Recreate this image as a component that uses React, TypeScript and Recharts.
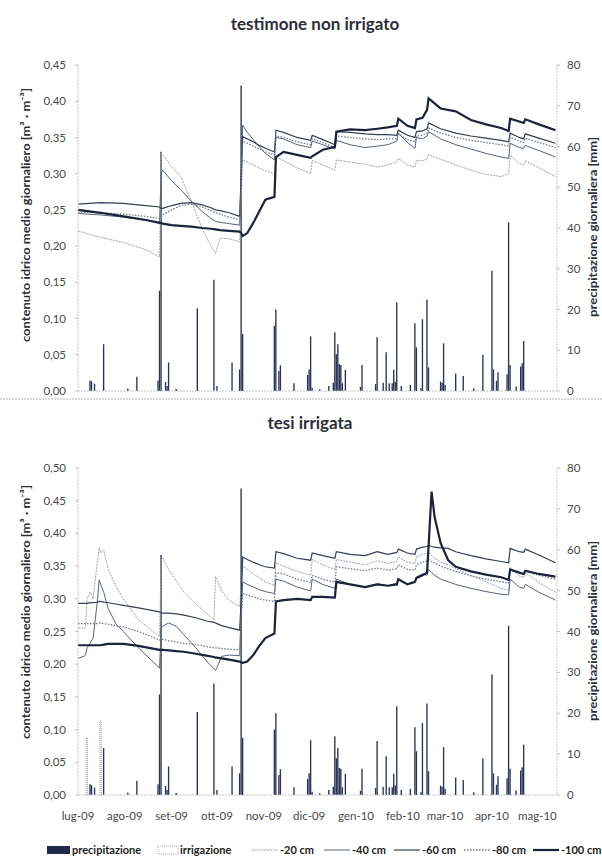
import React from "react";
import { ComposedChart, Line, Bar, XAxis, YAxis } from "recharts";

// x axis: days from 1 Jul 2009
const monthDays = [0, 31, 62, 92, 123, 153, 184, 215, 243, 274, 304];
const monthLabels = ["lug-09", "ago-09", "set-09", "ott-09", "nov-09", "dic-09", "gen-10", "feb-10", "mar-10", "apr-10", "mag-10"];

const topTicks = [0, 0.05, 0.1, 0.15, 0.2, 0.25, 0.3, 0.35, 0.4, 0.45];
const botTicks = [0, 0.05, 0.1, 0.15, 0.2, 0.25, 0.3, 0.35, 0.4, 0.45, 0.5];
const mmTicks = [0, 10, 20, 30, 40, 50, 60, 70, 80];

// precipitazione giornaliera (mm), same for both plots
const rainDays = [8, 9, 11, 17, 33, 39, 53, 54, 55, 58, 59, 60, 65, 79, 90, 92, 102, 107, 108, 109, 130, 131, 133, 134, 143, 152, 153, 154, 155, 160, 166, 169, 170, 171, 172, 173, 174, 175, 177, 187, 188, 197, 198, 202, 204, 206, 208, 209, 210, 211, 214, 220, 223, 224, 227, 228, 231, 232, 240, 241, 242, 243, 250, 255, 262, 268, 274, 275, 277, 278, 284, 285, 286, 290, 293, 294, 295];
const rainMm = [2.6, 2.4, 1.8, 11.5, 0.6, 3.5, 2.6, 24.6, 58.7, 2.2, 1.2, 7.0, 0.5, 20.3, 27.3, 1.2, 7.0, 5.3, 75, 14, 16, 20, 4.9, 6.3, 1.9, 3.9, 5.3, 13.4, 0.8, 0.4, 1.2, 2.0, 14.4, 9.0, 11.5, 6.6, 6.4, 1.9, 5.2, 1.0, 6.4, 1.7, 13.2, 2.0, 9.5, 1.9, 1.9, 5.2, 2.3, 21.7, 1.2, 1.5, 16.6, 10.7, 0.7, 17.6, 22.4, 5.8, 2.3, 2.0, 11.7, 1.5, 4.3, 3.7, 0.7, 8.9, 29.5, 5.3, 2.5, 4.6, 4.1, 41.4, 6.4, 1.1, 6.0, 6.8, 12.3];

// irrigazione (mm), irrigated plot only
const irrDays = [6, 15];
const irrMm = [14, 18];

// testimone non irrigato - soil water content (m3/m3)
const topDays = [0, 15, 30, 45, 54, 55, 56, 62, 68, 75, 82, 88, 91, 94, 100, 107, 108, 109, 112, 116, 120, 124, 130, 131, 136, 145, 154, 155, 162, 170, 171, 180, 190, 198, 205, 211, 212, 218, 223, 224, 228, 231, 232, 240, 250, 260, 270, 280, 285, 286, 292, 295, 296, 305, 316];
const top20 = [0.221, 0.212, 0.205, 0.195, 0.185, 0.328, 0.326, 0.310, 0.296, 0.262, 0.225, 0.200, 0.190, 0.211, 0.210, 0.206, 0.270, 0.319, 0.316, 0.312, 0.308, 0.304, 0.300, 0.323, 0.318, 0.308, 0.300, 0.318, 0.312, 0.305, 0.319, 0.316, 0.313, 0.309, 0.312, 0.316, 0.321, 0.312, 0.309, 0.318, 0.318, 0.320, 0.326, 0.320, 0.312, 0.305, 0.299, 0.296, 0.300, 0.326, 0.314, 0.312, 0.318, 0.308, 0.296];
const top40 = [0.245, 0.243, 0.240, 0.236, 0.233, 0.300, 0.305, 0.290, 0.278, 0.262, 0.248, 0.238, 0.234, 0.233, 0.231, 0.229, 0.300, 0.367, 0.357, 0.347, 0.337, 0.328, 0.319, 0.350, 0.348, 0.340, 0.336, 0.345, 0.340, 0.334, 0.346, 0.340, 0.336, 0.338, 0.340, 0.345, 0.356, 0.343, 0.335, 0.350, 0.348, 0.352, 0.358, 0.348, 0.340, 0.334, 0.328, 0.323, 0.321, 0.342, 0.336, 0.335, 0.339, 0.332, 0.323];
const top60 = [0.258, 0.260, 0.259, 0.256, 0.254, 0.252, 0.252, 0.256, 0.259, 0.260, 0.257, 0.253, 0.250, 0.249, 0.246, 0.241, 0.300, 0.351, 0.348, 0.344, 0.339, 0.335, 0.330, 0.360, 0.357, 0.350, 0.346, 0.353, 0.347, 0.340, 0.358, 0.357, 0.355, 0.354, 0.354, 0.353, 0.360, 0.353, 0.350, 0.358, 0.359, 0.362, 0.370, 0.362, 0.356, 0.352, 0.349, 0.346, 0.344, 0.356, 0.350, 0.348, 0.355, 0.349, 0.342];
const top80 = [0.247, 0.246, 0.244, 0.241, 0.238, 0.240, 0.243, 0.250, 0.256, 0.258, 0.254, 0.249, 0.246, 0.244, 0.240, 0.236, 0.290, 0.345, 0.342, 0.338, 0.334, 0.330, 0.326, 0.352, 0.350, 0.344, 0.340, 0.348, 0.343, 0.336, 0.352, 0.350, 0.348, 0.347, 0.348, 0.348, 0.355, 0.347, 0.344, 0.352, 0.353, 0.356, 0.363, 0.356, 0.350, 0.346, 0.343, 0.340, 0.338, 0.350, 0.345, 0.343, 0.349, 0.343, 0.336];
const top100 = [0.250, 0.246, 0.241, 0.236, 0.232, 0.232, 0.231, 0.229, 0.228, 0.227, 0.225, 0.224, 0.223, 0.222, 0.221, 0.220, 0.218, 0.214, 0.218, 0.232, 0.248, 0.264, 0.268, 0.323, 0.330, 0.326, 0.322, 0.324, 0.333, 0.337, 0.358, 0.361, 0.360, 0.362, 0.364, 0.366, 0.376, 0.366, 0.363, 0.375, 0.377, 0.388, 0.404, 0.390, 0.386, 0.374, 0.368, 0.363, 0.359, 0.376, 0.372, 0.370, 0.375, 0.368, 0.360];

// tesi irrigata
const botDays = [0, 4, 5, 6, 8, 10, 13, 14, 15, 17, 20, 25, 30, 40, 54, 55, 56, 60, 65, 70, 78, 85, 90, 91, 92, 95, 100, 107, 108, 109, 112, 116, 120, 124, 130, 131, 136, 145, 154, 155, 162, 170, 171, 180, 190, 198, 205, 211, 212, 218, 223, 224, 228, 231, 232, 234, 236, 240, 245, 250, 260, 270, 280, 285, 286, 292, 295, 296, 305, 316];
const bot20 = [0.255, 0.255, 0.256, 0.300, 0.310, 0.300, 0.360, 0.378, 0.370, 0.375, 0.345, 0.320, 0.300, 0.268, 0.242, 0.360, 0.362, 0.345, 0.328, 0.310, 0.292, 0.278, 0.268, 0.334, 0.330, 0.312, 0.298, 0.288, 0.320, 0.350, 0.345, 0.338, 0.332, 0.326, 0.320, 0.355, 0.350, 0.342, 0.336, 0.360, 0.352, 0.345, 0.360, 0.356, 0.352, 0.358, 0.354, 0.357, 0.364, 0.356, 0.354, 0.364, 0.368, 0.370, 0.372, 0.366, 0.362, 0.356, 0.352, 0.346, 0.336, 0.326, 0.316, 0.313, 0.348, 0.335, 0.333, 0.340, 0.325, 0.310];
const bot40 = [0.209, 0.212, 0.214, 0.225, 0.232, 0.240, 0.300, 0.329, 0.322, 0.310, 0.285, 0.262, 0.250, 0.225, 0.194, 0.255, 0.258, 0.263, 0.258, 0.245, 0.225, 0.205, 0.193, 0.191, 0.195, 0.212, 0.214, 0.213, 0.280, 0.326, 0.322, 0.318, 0.314, 0.311, 0.308, 0.330, 0.327, 0.318, 0.312, 0.330, 0.322, 0.316, 0.330, 0.322, 0.318, 0.323, 0.320, 0.324, 0.330, 0.322, 0.325, 0.333, 0.338, 0.336, 0.345, 0.340, 0.336, 0.330, 0.326, 0.322, 0.316, 0.311, 0.307, 0.306, 0.330, 0.318, 0.316, 0.322, 0.310, 0.298];
const bot60 = [0.293, 0.293, 0.293, 0.293, 0.294, 0.294, 0.295, 0.296, 0.296, 0.295, 0.294, 0.292, 0.290, 0.286, 0.280, 0.279, 0.278, 0.278, 0.277, 0.275, 0.271, 0.266, 0.264, 0.263, 0.262, 0.259, 0.256, 0.252, 0.300, 0.364, 0.360, 0.356, 0.352, 0.349, 0.347, 0.372, 0.369, 0.362, 0.359, 0.370, 0.366, 0.362, 0.372, 0.368, 0.366, 0.372, 0.368, 0.371, 0.376, 0.370, 0.368, 0.376, 0.379, 0.380, 0.382, 0.380, 0.379, 0.378, 0.377, 0.372, 0.366, 0.361, 0.357, 0.355, 0.377, 0.372, 0.371, 0.376, 0.367, 0.355];
const bot80 = [0.262, 0.262, 0.262, 0.262, 0.262, 0.262, 0.262, 0.263, 0.263, 0.262, 0.261, 0.259, 0.257, 0.250, 0.237, 0.238, 0.238, 0.236, 0.234, 0.232, 0.230, 0.227, 0.225, 0.225, 0.225, 0.224, 0.223, 0.222, 0.270, 0.308, 0.306, 0.303, 0.300, 0.298, 0.296, 0.340, 0.338, 0.330, 0.325, 0.336, 0.330, 0.325, 0.349, 0.346, 0.343, 0.347, 0.344, 0.346, 0.352, 0.345, 0.344, 0.352, 0.356, 0.358, 0.360, 0.357, 0.355, 0.350, 0.346, 0.342, 0.335, 0.330, 0.326, 0.324, 0.344, 0.340, 0.338, 0.342, 0.336, 0.330];
const bot100 = [0.229, 0.229, 0.229, 0.229, 0.229, 0.229, 0.229, 0.229, 0.229, 0.230, 0.231, 0.231, 0.231, 0.228, 0.222, 0.222, 0.222, 0.221, 0.220, 0.219, 0.216, 0.213, 0.211, 0.210, 0.210, 0.209, 0.207, 0.204, 0.203, 0.202, 0.204, 0.214, 0.228, 0.240, 0.247, 0.296, 0.298, 0.300, 0.298, 0.303, 0.303, 0.302, 0.326, 0.322, 0.318, 0.322, 0.320, 0.322, 0.330, 0.322, 0.326, 0.332, 0.336, 0.340, 0.380, 0.464, 0.425, 0.385, 0.359, 0.349, 0.342, 0.337, 0.333, 0.329, 0.345, 0.340, 0.338, 0.343, 0.338, 0.334];

const seriesStyle = [
  { key: "d20", name: "-20 cm", color: "#9ca2ae", width: 1, dash: "2 1" },
  { key: "d40", name: "-40 cm", color: "#58627c", width: 1, dash: undefined },
  { key: "d60", name: "-60 cm", color: "#363e56", width: 1.2, dash: undefined },
  { key: "d80", name: "-80 cm", color: "#727888", width: 1.3, dash: "1.5 1.5" },
  { key: "d100", name: "-100 cm", color: "#1c2238", width: 2.2, dash: undefined },
];

type Row = { day: number; [k: string]: number | undefined };

function buildRows(days: number[], lines: Record<string, number[]>, bars: Record<string, [number[], number[]]>) {
  const map = new Map<number, Row>();
  const get = (d: number) => {
    if (!map.has(d)) map.set(d, { day: d });
    return map.get(d)!;
  };
  days.forEach((d, i) => {
    const r = get(d);
    for (const k in lines) r[k] = lines[k][i];
  });
  for (const k in bars) {
    const [ds, vs] = bars[k];
    ds.forEach((d, i) => {
      get(d)[k] = vs[i];
    });
  }
  return [...map.values()].sort((a, b) => a.day - b.day);
}

const topRows = buildRows(
  topDays,
  { d20: top20, d40: top40, d60: top60, d80: top80, d100: top100 },
  { rain: [rainDays, rainMm] }
);
const botRows = buildRows(
  botDays,
  { d20: bot20, d40: bot40, d60: bot60, d80: bot80, d100: bot100 },
  { rain: [rainDays, rainMm], irr: [irrDays, irrMm] }
);

const axisGrey = "#c4c4c4";
const tickStyle = { fill: "#4a4a4a", fontSize: 11.5 };
const fmt = (v: number) => v.toFixed(2).replace(".", ",");

function Panel({ top, height, bottom, rows, yMax, yTicks, showLabels }: any) {
  return (
    <div style={{ position: "absolute", left: 0, top }}>
      <ComposedChart width={602} height={height} data={rows} margin={{ top: 25, right: 0, bottom, left: 0 }}>
        <XAxis
          dataKey="day"
          type="number"
          domain={[0, 317]}
          ticks={monthDays}
          interval={0}
          allowDataOverflow
          tickFormatter={(d: number) => monthLabels[monthDays.indexOf(d)]}
          tick={showLabels ? tickStyle : false}
          tickLine={false}
          tickSize={0}
          tickMargin={17}
          height={showLabels ? 30 : 4}
          axisLine={{ stroke: axisGrey, strokeDasharray: "2 1" }}
        />
        <YAxis
          yAxisId="l"
          width={78}
          domain={[0, yMax]}
          ticks={yTicks}
          interval={0}
          tickFormatter={fmt}
          tick={tickStyle}
          tickSize={3}
          tickMargin={9}
          axisLine={{ stroke: axisGrey, strokeDasharray: "2 1" }}
          tickLine={{ stroke: axisGrey }}
        />
        <YAxis
          yAxisId="r"
          orientation="right"
          width={45}
          domain={[0, 80]}
          ticks={mmTicks}
          interval={0}
          tick={tickStyle}
          tickSize={3}
          tickMargin={7}
          axisLine={{ stroke: axisGrey, strokeDasharray: "2 1" }}
          tickLine={{ stroke: axisGrey }}
        />
        <Bar dataKey="rain" yAxisId="r" stackId="p" barSize={2} fill="#2b3356" isAnimationActive={false} />
        {showLabels && (
          <Bar dataKey="irr" yAxisId="r" stackId="p" barSize={2} fill="#ffffff" stroke="#6a6a6a" strokeWidth={0.7} strokeDasharray="1 1" isAnimationActive={false} />
        )}
        {seriesStyle.map((s) => (
          <Line
            key={s.key}
            yAxisId="l"
            dataKey={s.key}
            type="linear"
            stroke={s.color}
            strokeWidth={s.width}
            strokeDasharray={s.dash}
            dot={false}
            connectNulls
            isAnimationActive={false}
          />
        ))}
      </ComposedChart>
    </div>
  );
}

function Overlay() {
  const txt = "#2e2e38";
  const legendY = 850;
  const lineItems = [
    { x: 252, tx: 280 },
    { x: 324, tx: 352 },
    { x: 394, tx: 422 },
    { x: 464, tx: 492 },
    { x: 533, tx: 561 },
  ];
  return (
    <svg width={602} height={858} style={{ position: "absolute", left: 0, top: 0, pointerEvents: "none" }}>
      <text x={315} y={30} textAnchor="middle" fontSize={17} fontWeight={700} fill={txt}>testimone non irrigato</text>
      <text x={310} y={429} textAnchor="middle" fontSize={17} fontWeight={700} fill={txt}>tesi irrigata</text>
      <line x1={0} x2={602} y1={399} y2={399} stroke="#b0b0b0" strokeDasharray="2 1" />

      <text x={30} y={215} transform="rotate(-90 30 215)" textAnchor="middle" fontSize={12} fontWeight={700} fill={txt} textLength={254} lengthAdjust="spacingAndGlyphs">
        contenuto idrico medio giornaliero [m³ · m⁻³]
      </text>
      <text x={30} y={612} transform="rotate(-90 30 612)" textAnchor="middle" fontSize={12} fontWeight={700} fill={txt} textLength={254} lengthAdjust="spacingAndGlyphs">
        contenuto idrico medio giornaliero [m³ · m⁻³]
      </text>
      <text x={597} y={227} transform="rotate(-90 597 227)" textAnchor="middle" fontSize={12} fontWeight={700} fill={txt} textLength={180} lengthAdjust="spacingAndGlyphs">
        precipitazione giornaliera [mm]
      </text>
      <text x={597} y={631} transform="rotate(-90 597 631)" textAnchor="middle" fontSize={12} fontWeight={700} fill={txt} textLength={180} lengthAdjust="spacingAndGlyphs">
        precipitazione giornaliera [mm]
      </text>

      <g fontSize={11} fontWeight={700} fill="#222">
        <rect x={47} y={legendY - 4} width={23} height={8} fill="#1f2a4a" />
        <text x={72} y={legendY + 4}>precipitazione</text>
        <rect x={158} y={legendY - 4} width={20} height={8} fill="#fff" stroke="#999" strokeWidth={0.8} strokeDasharray="1 1" />
        <text x={180} y={legendY + 4}>irrigazione</text>
        {seriesStyle.map((s, i) => (
          <g key={s.key}>
            <line x1={lineItems[i].x} x2={lineItems[i].x + 26} y1={legendY} y2={legendY} stroke={s.color} strokeWidth={s.width} strokeDasharray={s.dash} />
            <text x={lineItems[i].tx} y={legendY + 4}>{s.name}</text>
          </g>
        ))}
      </g>
    </svg>
  );
}

export default function App() {
  return (
    <div style={{ position: "absolute", left: 0, top: 0, width: 602, height: 858, background: "#fff", fontFamily: "Lato, 'Open Sans', sans-serif" }}>
      <Panel top={40} height={367} bottom={12} rows={topRows} yMax={0.45} yTicks={topTicks} showLabels={false} />
      <Panel top={443} height={382} bottom={0} rows={botRows} yMax={0.5} yTicks={botTicks} showLabels={true} />
      <Overlay />
    </div>
  );
}
